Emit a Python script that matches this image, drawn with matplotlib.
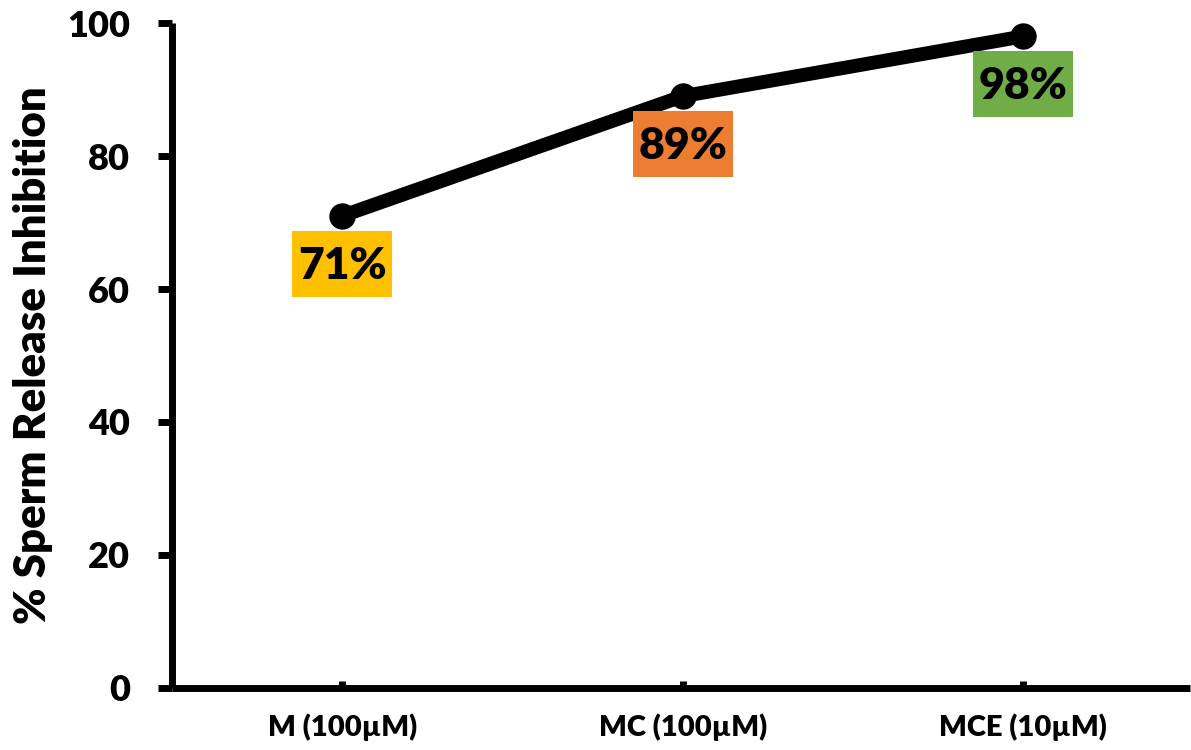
import matplotlib
matplotlib.use("Agg")
import matplotlib.pyplot as plt
from matplotlib.offsetbox import AnnotationBbox, DrawingArea
from matplotlib.patches import Rectangle
from matplotlib.text import Text

# Sperm release inhibition per treatment
categories = ["M (100µM)", "MC (100µM)", "MCE (10µM)"]
inhibition = [71, 89, 98]
box_colors = ["#FFC000", "#ED7D31", "#70AD47"]
y_ticks = [0, 20, 40, 60, 80, 100]

plt.rcParams["font.family"] = ["Lato", "DejaVu Sans"]

fig = plt.figure(figsize=(11.91, 7.5), dpi=100)
ax = fig.add_axes([0.1444, 0.0827, 0.855, 0.8866])

x = list(range(len(categories)))
ax.plot(x, inhibition, color="black", lw=10, marker="o", markersize=18,
        solid_capstyle="round", zorder=3)

# value callouts: coloured box (size in points) placed below each point
box_w, box_h = 72, 47.5
for xi, val, col in zip(x, inhibition, box_colors):
    da = DrawingArea(box_w, box_h, 0, 0)
    da.add_artist(Rectangle((0, 0), box_w, box_h, facecolor=col, edgecolor="none"))
    da.add_artist(Text(box_w / 2, box_h / 2 - 1.5, f"{val}%", ha="center", va="center",
                       fontsize=32, fontweight="heavy", color="black"))
    ab = AnnotationBbox(da, (xi, val), xybox=(0, -34.5), boxcoords="offset points",
                        box_alignment=(0.5, 0.5), frameon=False, pad=0)
    ab.set_zorder(4)
    ax.add_artist(ab)

ax.set_xlim(-0.5, 2.49)
ax.set_ylim(0, 100)
ax.set_xticks(x)
ax.set_xticklabels(categories, fontsize=21, fontweight="heavy")
ax.set_yticks(y_ticks)
ax.set_yticklabels([str(t) for t in y_ticks], fontsize=26, fontweight="heavy")

for side in ["top", "right"]:
    ax.spines[side].set_visible(False)
for side in ["left", "bottom"]:
    ax.spines[side].set_linewidth(5)
    ax.spines[side].set_capstyle("butt")

ax.tick_params(axis="y", direction="out", length=10, width=5, pad=20)
ax.tick_params(axis="x", direction="in", length=5, width=5, pad=18)

ax.set_ylabel("% Sperm Release Inhibition", fontsize=31.5, fontweight="heavy", labelpad=10)

fig.savefig("out.png", dpi=100)
